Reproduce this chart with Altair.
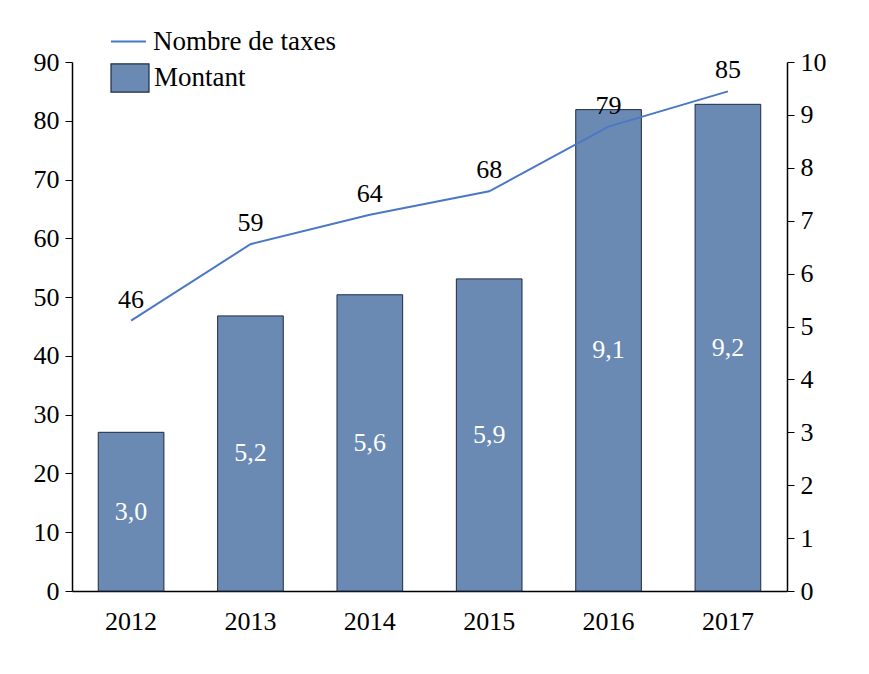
import altair as alt
import pandas as pd

years = ["2012", "2013", "2014", "2015", "2016", "2017"]
montant = [3.0, 5.2, 5.6, 5.9, 9.1, 9.2]
nombre = [46, 59, 64, 68, 79, 85]

montant_labels = [f"{v:.1f}".replace(".", ",") for v in montant]

df = pd.DataFrame({
    "year": years,
    "montant": montant,
    "montant_half": [v / 2 for v in montant],
    "montant_label": montant_labels,
    "nombre": nombre,
    "serie_bar": ["Montant"] * len(years),
    "serie_line": ["Nombre de taxes"] * len(years),
})

FONT = "Liberation Serif"
BAR_COLOR = "#6A8AB4"
LINE_COLOR = "#4A78C4"

x_enc = alt.X("year:N", title=None, sort=years,
              scale=alt.Scale(paddingInner=0.45, paddingOuter=0.22),
              axis=alt.Axis(labelAngle=0, ticks=False, labelPadding=17,
                            labelFont=FONT, labelFontSize=26, labelColor="black",
                            domainColor="black", domainWidth=1.5))

right_axis = alt.Axis(orient="right", values=list(range(0, 11)), grid=False,
                      labelFont=FONT, labelFontSize=26, labelColor="black",
                      tickColor="black", tickSize=7, domainColor="black",
                      domainWidth=1.5, labelPadding=6, title=None)
left_axis = alt.Axis(orient="left", values=list(range(0, 91, 10)), grid=False,
                     labelFont=FONT, labelFontSize=26, labelColor="black",
                     tickColor="black", tickSize=7, domainColor="black",
                     domainWidth=1.5, labelPadding=6, title=None)
right_scale = alt.Scale(domain=[0, 10], nice=False, zero=True)
left_scale = alt.Scale(domain=[0, 90], nice=False, zero=True)

base = alt.Chart(df)

bars = base.mark_bar(stroke="#1F2A44", strokeWidth=1).encode(
    x=x_enc,
    y=alt.Y("montant:Q", title=None, scale=right_scale, axis=right_axis),
    fill=alt.Fill("serie_bar:N", title=None,
                  scale=alt.Scale(domain=["Montant"], range=[BAR_COLOR]),
                  legend=alt.Legend(orient="none", legendX=38, legendY=-4,
                                    symbolType="M-1,-0.74H1V0.74H-1Z",
                                    symbolSize=1444, symbolStrokeColor="#1F2A44",
                                    symbolStrokeWidth=1.2, symbolFillColor=BAR_COLOR,
                                    labelFont=FONT, labelFontSize=27, labelLimit=400,
                                    labelColor="black", labelOffset=4)),
)

bar_text = base.mark_text(font=FONT, fontSize=26, color="white", baseline="middle").encode(
    x=alt.X("year:N", sort=years, title=None),
    y=alt.Y("montant_half:Q", title=None, scale=right_scale, axis=right_axis),
    text="montant_label:N",
)

line = base.mark_line(strokeWidth=2).encode(
    x=alt.X("year:N", sort=years, title=None),
    y=alt.Y("nombre:Q", title=None, scale=left_scale, axis=left_axis),
    stroke=alt.Stroke("serie_line:N", title=None,
                      scale=alt.Scale(domain=["Nombre de taxes"], range=[LINE_COLOR]),
                      legend=alt.Legend(orient="none", legendX=38, legendY=-39,
                                        symbolType="stroke", symbolSize=1225,
                                        symbolStrokeWidth=2, labelLimit=400,
                                        labelFont=FONT, labelFontSize=27,
                                        labelColor="black", labelOffset=6)),
)

line_text = base.mark_text(font=FONT, fontSize=26, color="black", baseline="middle", dy=-21).encode(
    x=alt.X("year:N", sort=years, title=None),
    y=alt.Y("nombre:Q", title=None, scale=left_scale, axis=left_axis),
    text="nombre:Q",
)

chart = alt.layer(
    alt.layer(bars, bar_text),
    alt.layer(line, line_text),
).resolve_scale(y="independent", fill="independent", stroke="independent").properties(
    width=715, height=529,
    background="white",
    autosize=alt.AutoSizeParams(type="none"),
    padding={"left": 64, "top": 54, "right": 60, "bottom": 60},
).configure_view(stroke="transparent", strokeWidth=0)

chart.save("out.html", embed_options={"renderer": "svg", "actions": False})
